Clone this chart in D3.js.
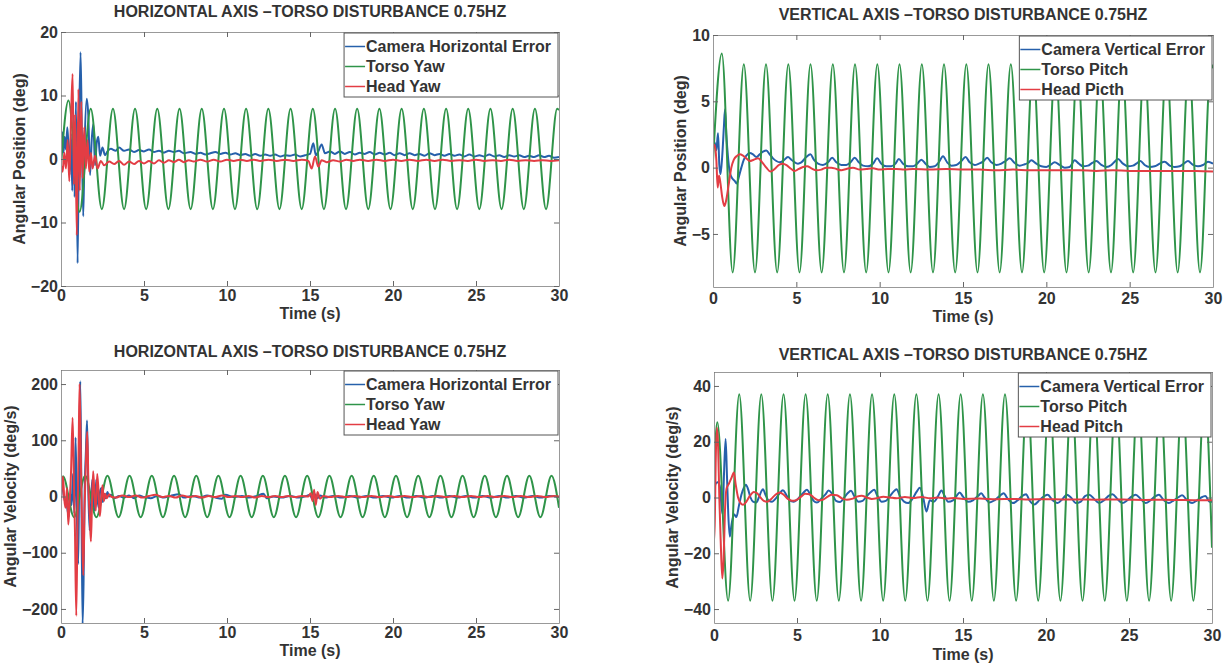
<!DOCTYPE html>
<html>
<head>
<meta charset="utf-8">
<script src="https://cdn.jsdelivr.net/npm/d3@7"></script>
<style>
  body { margin: 0; background: #fff; }
  text { font-family: "Liberation Sans", Arial, Helvetica, sans-serif; font-weight: bold; fill: #333; }
</style>
</head>
<body>
<svg id="chart" width="1232" height="663"></svg>
<script>
// ---- data: [time (s), value] ----
const timeTicks = [0, 5, 10, 15, 20, 25, 30];
const posHorTicks = [-20, -10, 0, 10, 20];
const posVerTicks = [-5, 0, 5, 10];
const velHorTicks = [-200, -100, 0, 100, 200];
const velVerTicks = [-40, -20, 0, 20, 40];

const torsoYawPos = [[0,-1],[0.45,9.2],[1.12,-8.3],[1.79,7.9],[2.46,-7.9],[3.13,7.9],[3.80,-7.9],[4.46,7.9],[5.13,-7.9],[5.80,7.9],[6.47,-7.9],[7.14,7.9],[7.81,-7.9],[8.48,7.9],[9.15,-7.9],[9.82,7.9],[10.48,-7.9],[11.15,7.9],[11.82,-7.9],[12.49,7.9],[13.16,-7.9],[13.83,7.9],[14.50,-7.9],[15.17,7.9],[15.84,-7.9],[16.51,7.9],[17.17,-7.9],[17.84,7.9],[18.51,-7.9],[19.18,7.9],[19.85,-7.9],[20.52,7.9],[21.19,-7.9],[21.86,7.9],[22.53,-7.9],[23.20,7.9],[23.86,-7.9],[24.53,7.9],[25.20,-7.9],[25.87,7.9],[26.54,-7.9],[27.21,7.9],[27.88,-7.9],[28.55,7.9],[29.22,-7.9],[29.89,7.9],[30,7.7]];

const camHorPos = [[0,2.5],[0.08,4.2],[0.15,1.0],[0.22,3.5],[0.3,1.5],[0.38,5.0],[0.45,2.0],[0.52,-2.5],[0.6,4.0],[0.68,-5.0],[0.75,7.0],[0.82,-6.0],[0.9,9.0],[1.0,-16.4],[1.08,4.0],[1.18,16.8],[1.26,3.0],[1.34,-9.0],[1.42,2.0],[1.55,9.5],[1.65,6.5],[1.75,-2.5],[1.85,3.0],[1.95,5.5],[2.05,-1.0],[2.15,2.5],[2.25,3.5],[2.35,0.5],[2.5,1.8],[2.65,0.6],[2.8,1.2],[3.0,1.6],[3.3,1.3],[3.5,1.8],[3.8,1.3],[4.1,1.5],[4.4,1.1],[4.7,1.4],[5.0,1.2],[5.3,1.5],[5.6,1.1],[5.9,1.3],[6.2,1.0],[6.5,1.3],[6.8,1.1],[7.1,1.3],[7.4,0.9],[7.8,1.1],[8.1,0.8],[8.4,1.0],[8.7,0.7],[9.0,0.9],[9.3,1.1],[9.6,0.8],[9.9,1.0],[10.2,0.7],[10.5,0.9],[10.8,0.6],[11.1,0.8],[11.4,0.5],[11.7,0.8],[12.0,0.5],[12.3,0.7],[12.6,0.5],[12.9,0.7],[13.2,0.4],[13.5,0.6],[13.8,0.5],[14.1,0.7],[14.4,0.4],[14.7,0.6],[15.0,0.8],[15.2,2.5],[15.35,0.6],[15.5,1.2],[15.7,2.3],[15.9,0.9],[16.2,1.2],[16.5,0.8],[16.8,1.2],[17.1,0.8],[17.4,1.1],[17.7,0.7],[18.0,1.0],[18.3,0.8],[18.6,1.1],[18.9,0.7],[19.2,1.0],[19.5,0.7],[19.8,1.0],[20.1,0.6],[20.4,0.9],[20.7,0.6],[21.0,0.9],[21.3,0.6],[21.6,0.8],[21.9,0.5],[22.2,0.9],[22.5,0.6],[22.8,0.8],[23.1,0.5],[23.4,0.8],[23.7,0.5],[24.0,0.7],[24.3,0.4],[24.6,0.7],[24.9,0.4],[25.2,0.6],[25.5,0.4],[25.8,0.7],[26.1,0.4],[26.4,0.6],[26.7,0.3],[27.0,0.6],[27.3,0.4],[27.6,0.6],[27.9,0.3],[28.2,0.5],[28.5,0.3],[28.8,0.6],[29.1,0.3],[29.4,0.5],[29.7,0.2],[30,0.3]];

const headYawPos = [[0,-1.0],[0.1,-2.0],[0.2,1.0],[0.3,-1.5],[0.4,3.0],[0.5,-3.5],[0.6,6.0],[0.7,13.4],[0.78,-4.0],[0.86,7.0],[0.95,-12.0],[1.05,11.0],[1.13,-5.0],[1.22,9.0],[1.3,-3.0],[1.4,5.0],[1.5,-1.5],[1.6,3.0],[1.7,-2.0],[1.8,1.0],[1.9,-1.5],[2.05,0.5],[2.2,-1.5],[2.4,-0.3],[2.6,-1.0],[2.9,-0.4],[3.2,-0.8],[3.5,-0.3],[3.8,-0.9],[4.1,-0.4],[4.4,-0.8],[4.7,-0.3],[5.0,-0.7],[5.3,-0.3],[5.6,-0.7],[5.9,-0.2],[6.2,-0.6],[6.5,-0.2],[6.8,-0.5],[7.1,-0.1],[7.4,-0.5],[7.7,-0.2],[8.0,-0.4],[8.4,-0.1],[8.8,-0.4],[9.2,-0.1],[9.6,-0.4],[10.0,-0.1],[10.4,-0.3],[10.8,-0.1],[11.2,-0.3],[11.6,-0.1],[12.0,-0.3],[12.5,-0.1],[13.0,-0.3],[13.5,-0.1],[14.0,-0.3],[14.5,-0.1],[14.9,-0.3],[15.1,-1.5],[15.3,0.4],[15.5,-1.2],[15.7,-0.2],[16.0,-0.5],[16.4,-0.2],[16.8,-0.4],[17.2,-0.1],[17.6,-0.3],[18.0,-0.1],[18.5,-0.3],[19.0,-0.1],[19.5,-0.3],[20.0,-0.1],[20.5,-0.3],[21,-0.1],[21.5,-0.3],[22,-0.1],[22.5,-0.3],[23,-0.1],[23.5,-0.3],[24,-0.2],[24.5,-0.3],[25,-0.1],[25.5,-0.3],[26,-0.2],[26.5,-0.3],[27,-0.1],[27.5,-0.3],[28,-0.2],[28.5,-0.3],[29,-0.2],[29.5,-0.3],[30,-0.2]];

const torsoPitchPos = [[0,0.5],[0.53,8.6],[1.18,-7.9],[1.85,7.8],[2.52,-7.9],[3.18,7.8],[3.85,-7.9],[4.52,7.8],[5.19,-7.9],[5.85,7.8],[6.52,-7.9],[7.19,7.8],[7.86,-7.9],[8.52,7.8],[9.19,-7.9],[9.86,7.8],[10.53,-7.9],[11.19,7.8],[11.86,-7.9],[12.53,7.8],[13.20,-7.9],[13.86,7.8],[14.53,-7.9],[15.20,7.8],[15.87,-7.9],[16.53,7.8],[17.20,-7.9],[17.87,7.8],[18.54,-7.9],[19.20,7.8],[19.87,-7.9],[20.54,7.8],[21.21,-7.9],[21.87,7.8],[22.54,-7.9],[23.21,7.8],[23.88,-7.9],[24.54,7.8],[25.21,-7.9],[25.88,7.8],[26.55,-7.9],[27.21,7.8],[27.88,-7.9],[28.55,7.8],[29.22,-7.9],[29.88,7.8],[30,7.5]];

const camVerPos = [[0,1.5],[0.1,1.9],[0.2,1.3],[0.3,2.6],[0.38,0.2],[0.45,-0.5],[0.55,0.8],[0.65,3.0],[0.72,4.4],[0.8,2.5],[0.9,0.8],[1.0,-0.3],[1.15,-0.8],[1.3,-1.0],[1.42,-1.2],[1.55,-0.7],[1.7,0.0],[1.85,0.6],[2.0,0.9],[2.2,1.1],[2.4,1.0],[2.6,0.8],[2.8,1.0],[3.0,1.2],[3.2,1.3],[3.4,1.0],[3.6,0.7],[3.8,0.5],[4.0,0.4],[4.2,0.5],[4.5,0.8],[4.7,0.6],[4.9,0.4],[5.1,0.3],[5.3,0.4],[5.6,0.8],[5.85,1.0],[6.05,0.6],[6.3,0.3],[6.6,0.2],[6.9,0.4],[7.15,0.75],[7.4,0.4],[7.7,0.2],[8.0,0.2],[8.25,0.4],[8.5,0.75],[8.75,0.4],[9.0,0.15],[9.3,0.1],[9.6,0.3],[9.85,0.7],[10.1,0.3],[10.4,0.1],[10.7,0.1],[10.95,0.3],[11.15,0.65],[11.4,0.3],[11.7,0.1],[12.0,0.1],[12.25,0.3],[12.5,0.6],[12.75,0.3],[13.0,0.05],[13.3,0.1],[13.55,0.4],[13.8,0.85],[14.05,0.4],[14.3,0.15],[14.6,0.2],[14.9,0.5],[15.15,0.8],[15.4,0.4],[15.7,0.2],[15.95,0.3],[16.2,0.45],[16.45,0.75],[16.7,0.4],[17.0,0.2],[17.3,0.3],[17.55,0.5],[17.8,0.7],[18.1,0.35],[18.4,0.15],[18.7,0.25],[18.9,0.35],[19.1,0.55],[19.4,0.3],[19.7,0.1],[20.0,0.05],[20.25,0.2],[20.5,0.4],[20.8,0.2],[21.1,0.0],[21.4,0.05],[21.7,0.55],[21.95,0.3],[22.2,0.1],[22.5,0.15],[22.75,0.35],[23.0,0.5],[23.3,0.2],[23.6,0.05],[23.9,0.2],[24.1,0.45],[24.3,0.65],[24.6,0.3],[24.9,0.1],[25.2,0.15],[25.4,0.3],[25.65,0.5],[25.9,0.2],[26.2,0.05],[26.5,0.1],[26.8,0.3],[27.1,0.45],[27.4,0.15],[27.7,0.05],[28.0,0.1],[28.25,0.3],[28.5,0.5],[28.8,0.2],[29.1,0.1],[29.4,0.2],[29.7,0.45],[30,0.3]];

const headPitchPos = [[0,1.6],[0.1,1.7],[0.2,0.6],[0.28,-1.5],[0.36,-0.6],[0.45,-1.2],[0.55,-2.2],[0.68,-2.9],[0.8,-2.4],[0.95,-1.2],[1.1,0.0],[1.25,0.6],[1.45,0.9],[1.6,1.0],[1.8,0.9],[2.0,0.7],[2.2,0.5],[2.45,0.6],[2.7,0.7],[2.95,0.4],[3.2,0.0],[3.45,-0.3],[3.7,-0.1],[3.95,0.2],[4.2,0.3],[4.45,0.15],[4.7,-0.1],[4.9,-0.25],[5.15,-0.1],[5.4,0.05],[5.65,0.1],[5.9,-0.05],[6.2,-0.2],[6.5,-0.15],[6.8,0.0],[7.1,0.0],[7.4,-0.1],[7.7,-0.2],[8.0,-0.1],[8.4,0.0],[8.8,-0.15],[9.2,-0.1],[9.6,-0.05],[10.0,-0.15],[10.5,-0.1],[11,-0.1],[11.5,-0.15],[12,-0.1],[13,-0.15],[14,-0.1],[15,-0.15],[16,-0.15],[17,-0.2],[18,-0.15],[19,-0.2],[20,-0.2],[21,-0.2],[22,-0.2],[23,-0.25],[24,-0.2],[25,-0.25],[26,-0.25],[27,-0.25],[28,-0.25],[29,-0.25],[30,-0.3]];

const torsoYawVel = [[0,10],[0.12,36],[0.79,-37],[1.46,37],[2.13,-37],[2.80,37],[3.47,-37],[4.13,37],[4.80,-37],[5.47,37],[6.14,-37],[6.81,37],[7.48,-37],[8.15,37],[8.81,-37],[9.48,37],[10.15,-37],[10.82,37],[11.49,-37],[12.16,37],[12.82,-37],[13.49,37],[14.16,-37],[14.83,37],[15.50,-37],[16.17,37],[16.84,-37],[17.51,37],[18.17,-37],[18.84,37],[19.51,-37],[20.18,37],[20.85,-37],[21.52,37],[22.19,-37],[22.86,37],[23.52,-37],[24.19,37],[24.86,-37],[25.53,37],[26.20,-37],[26.87,37],[27.54,-37],[28.21,37],[28.88,-37],[29.55,37],[30,-20]];

const camHorVel = [[0,10],[0.08,18],[0.16,2],[0.24,-8],[0.32,-10],[0.4,-25],[0.48,-35],[0.56,5],[0.64,-15],[0.72,40],[0.8,-30],[0.88,105],[0.96,-40],[1.04,-120],[1.1,60],[1.16,205],[1.22,40],[1.3,-228],[1.36,-150],[1.42,0],[1.5,80],[1.57,135],[1.64,20],[1.72,-60],[1.8,-20],[1.88,30],[1.96,-10],[2.04,-25],[2.12,30],[2.2,-5],[2.28,-20],[2.36,10],[2.44,15],[2.52,-10],[2.6,5],[2.7,-3],[2.8,8],[2.9,0],[3.0,3],[3.2,-3],[3.5,1],[3.8,-2],[4.1,2],[4.4,-3],[4.7,2],[5.0,-1],[5.4,-3],[5.8,1],[6.2,-2],[6.6,1],[7.1,4],[7.4,-2],[7.9,1],[8.4,-2],[8.8,2],[9.2,-1],[9.7,-4],[9.9,3],[10.4,-1],[10.9,1],[11.3,-2],[11.8,1],[12.2,5],[12.4,-3],[12.8,0],[13.3,-2],[13.8,1],[14.3,-2],[14.8,1],[15.0,3],[15.15,-5],[15.3,4],[15.45,-3],[15.6,2],[15.9,-2],[16.4,1],[16.9,-2],[17.4,1],[17.9,-2],[18.4,1],[18.9,-2],[19.4,1],[19.9,-2],[20.4,1],[20.9,-2],[21.4,1],[21.9,-2],[22.4,1],[22.9,-2],[23.4,1],[23.9,-2],[24.4,1],[24.9,-2],[25.4,1],[25.9,-2],[26.4,1],[26.9,-2],[27.4,1],[27.9,-2],[28.4,1],[28.9,-2],[29.4,1],[30,-1]];

const headYawVel = [[0,-10],[0.06,20],[0.12,35],[0.2,-5],[0.28,-20],[0.36,15],[0.44,-50],[0.52,-10],[0.6,40],[0.7,140],[0.78,20],[0.84,-60],[0.92,-212],[1.0,-30],[1.06,80],[1.12,200],[1.2,60],[1.27,-50],[1.34,-140],[1.42,-20],[1.5,60],[1.58,115],[1.66,10],[1.74,-40],[1.8,-80],[1.87,-10],[1.94,45],[2.02,0],[2.1,-25],[2.18,40],[2.26,10],[2.34,-35],[2.42,-5],[2.5,20],[2.58,-8],[2.66,5],[2.76,-3],[2.9,4],[3.0,0],[3.3,-2],[3.7,2],[4.1,-1],[4.5,2],[4.9,-2],[5.3,1],[5.7,3],[6.1,-1],[6.5,1],[6.9,-2],[7.3,2],[7.7,-1],[8.1,1],[8.5,-2],[8.9,1],[9.3,-1],[9.7,2],[10.1,-1],[10.5,1],[10.9,-1],[11.3,1],[11.7,-2],[12.1,1],[12.5,-1],[12.9,1],[13.3,-1],[13.7,1],[14.1,-1],[14.5,1],[14.9,0],[15.05,6],[15.15,-8],[15.25,12],[15.35,-15],[15.45,8],[15.6,-4],[15.8,1],[16.2,-1],[16.7,1],[17.2,-1],[17.7,1],[18.2,-1],[18.7,1],[19.2,-1],[19.7,1],[20.2,-1],[20.7,1],[21.2,-1],[21.7,1],[22.2,-1],[22.7,1],[23.2,-1],[23.7,1],[24.2,-1],[24.7,1],[25.2,-1],[25.7,1],[26.2,-1],[26.7,1],[27.2,-1],[27.7,1],[28.2,-1],[28.7,1],[29.2,-1],[29.7,1],[30,0]];

const torsoPitchVel = [[0,8],[0.2,27],[0.85,-37],[1.52,37],[2.18,-37],[2.85,37],[3.52,-37],[4.19,37],[4.85,-37],[5.52,37],[6.19,-37],[6.85,37],[7.52,-37],[8.19,37],[8.86,-37],[9.52,37],[10.19,-37],[10.86,37],[11.52,-37],[12.19,37],[12.86,-37],[13.53,37],[14.19,-37],[14.86,37],[15.53,-37],[16.20,37],[16.86,-37],[17.53,37],[18.20,-37],[18.87,37],[19.53,-37],[20.20,37],[20.87,-37],[21.54,37],[22.20,-37],[22.87,37],[23.54,-37],[24.21,37],[24.87,-37],[25.54,37],[26.21,-37],[26.88,37],[27.54,-37],[28.21,37],[28.88,-37],[29.55,37],[30,-18]];

const camVerVel = [[0,2],[0.1,5],[0.22,5.5],[0.35,4],[0.45,-3],[0.52,-6],[0.6,8],[0.7,21],[0.78,8],[0.86,-6],[0.95,-14],[1.05,-10],[1.2,-6],[1.35,-7],[1.5,-3],[1.65,1],[1.8,3.5],[1.92,4.6],[2.05,3],[2.2,0],[2.35,-1.5],[2.55,-1.8],[2.7,0],[2.85,2.2],[2.95,3],[3.1,1],[3.3,-1.2],[3.5,-1.5],[3.7,-0.5],[3.95,1.5],[4.15,2.6],[4.35,1],[4.55,-1],[4.8,-1.5],[5.0,-0.8],[5.2,0.5],[5.4,1.8],[5.6,2.8],[5.8,1],[6.0,-1.2],[6.2,-1.8],[6.45,-0.5],[6.7,1],[6.9,2.5],[7.1,1.5],[7.35,-1.2],[7.6,-1.6],[7.85,0],[8.05,1.5],[8.25,2.4],[8.45,0.5],[8.7,-1.5],[8.95,-1.2],[9.2,0.5],[9.45,2],[9.65,2.8],[9.85,0.5],[10.1,-1.5],[10.35,-1.2],[10.6,0.5],[10.8,2],[11.0,3],[11.2,0.5],[11.45,-1.5],[11.7,-2],[11.95,-0.5],[12.2,2],[12.4,3.5],[12.6,0],[12.8,-5],[13.0,-1],[13.25,-1.5],[13.5,0.5],[13.7,2.5],[13.9,0.5],[14.1,-1.5],[14.4,-1],[14.6,0.5],[14.8,1.8],[15.0,0.3],[15.3,-1.5],[15.6,-1],[15.9,0.5],[16.1,1.5],[16.3,0],[16.6,-1.8],[16.9,-1],[17.2,0.5],[17.45,1.5],[17.7,-0.5],[18.0,-2],[18.3,-1],[18.55,0.5],[18.8,1.2],[19.0,-1],[19.3,-2.5],[19.6,-1],[19.9,0.5],[20.1,1],[20.4,-1],[20.7,-2],[21.0,-0.5],[21.25,1],[21.5,0],[21.8,-2],[22.1,-1.5],[22.35,0.5],[22.6,1],[22.9,-0.5],[23.2,-2],[23.5,-1],[23.75,0.5],[24.0,1.2],[24.3,-0.5],[24.6,-2],[24.9,-1],[25.15,0.3],[25.4,1],[25.7,-0.5],[26.0,-2],[26.3,-1],[26.55,0.3],[26.8,1],[27.1,-1],[27.4,-2],[27.7,-1],[27.95,0],[28.2,0.8],[28.5,-1],[28.8,-2],[29.1,-1],[29.35,0],[29.6,0.5],[29.85,-1.5],[30,-1.5]];

const headPitchVel = [[0,-15],[0.05,-8],[0.1,12],[0.18,25],[0.25,18],[0.32,0],[0.4,-15],[0.5,-29],[0.58,-22],[0.66,-5],[0.75,3],[0.9,5],[1.05,7],[1.2,9],[1.3,5],[1.45,0],[1.6,-2],[1.75,-2.6],[1.95,-1.5],[2.15,0.5],[2.4,2],[2.6,1.5],[2.8,0],[3.0,-1.2],[3.2,-1.5],[3.45,-0.5],[3.7,1],[3.95,1.8],[4.2,1],[4.45,-0.5],[4.7,-1.2],[4.95,-1],[5.25,0.3],[5.5,1.3],[5.75,1.2],[6.0,0],[6.3,-1],[6.55,-0.8],[6.85,0.3],[7.1,1],[7.4,0.8],[7.7,-0.3],[8.0,-0.8],[8.3,-0.5],[8.6,0.3],[8.9,0.6],[9.2,0],[9.5,-0.5],[9.8,-0.3],[10.2,0.3],[10.6,0],[11.0,-0.3],[11.5,0.2],[12,-0.2],[12.5,0.2],[13,-0.3],[13.5,0],[14,-0.4],[14.5,-0.2],[15,-0.5],[16,-0.4],[17,-0.6],[18,-0.5],[19,-0.7],[20,-0.6],[21,-0.7],[22,-0.7],[23,-0.8],[24,-0.7],[25,-0.8],[26,-0.9],[27,-0.8],[28,-0.9],[29,-1.0],[30,-1.0]];

const colors = { camera: "#2660ab", torso: "#2f9449", head: "#e33d44" };

// ---- panels ----
const panels = [
  { id: "tl", box: [61, 559, 32, 286], yDomain: [-20, 20], yTicks: posHorTicks,
    title: "HORIZONTAL AXIS \u2013TORSO DISTURBANCE 0.75HZ", titleY: 17,
    yLabel: "Angular Position (deg)", yLabelX: 25, xTickPad: 15, xLabelY: 319,
    names: ["Camera Horizontal Error", "Torso Yaw", "Head Yaw"],
    series: [camHorPos, torsoYawPos, headYawPos] },
  { id: "tr", box: [713, 1213, 35, 287], yDomain: [-9, 10], yTicks: posVerTicks,
    title: "VERTICAL AXIS \u2013TORSO DISTURBANCE 0.75HZ", titleY: 20,
    yLabel: "Angular Position (deg)", yLabelX: 686, xTickPad: 17, xLabelY: 322,
    names: ["Camera Vertical Error", "Torso Pitch", "Head Picth"],
    series: [camVerPos, torsoPitchPos, headPitchPos] },
  { id: "bl", box: [61, 559, 370, 623], yDomain: [-225, 225], yTicks: velHorTicks,
    title: "HORIZONTAL AXIS \u2013TORSO DISTURBANCE 0.75HZ", titleY: 357,
    yLabel: "Angular Velocity (deg/s)", yLabelX: 16, xTickPad: 15, xLabelY: 656,
    names: ["Camera Horizontal Error", "Torso Yaw", "Head Yaw"],
    series: [camHorVel, torsoYawVel, headYawVel] },
  { id: "br", box: [714, 1212, 372, 623], yDomain: [-45, 45], yTicks: velVerTicks,
    title: "VERTICAL AXIS \u2013TORSO DISTURBANCE 0.75HZ", titleY: 360,
    yLabel: "Angular Velocity (deg/s)", yLabelX: 678, xTickPad: 18, xLabelY: 660,
    names: ["Camera Vertical Error", "Torso Pitch", "Head Pitch"],
    series: [camVerVel, torsoPitchVel, headPitchVel] }
];

const svg = d3.select("#chart");
const seriesColors = [colors.camera, colors.torso, colors.head];

function styleAxis(g) {
  g.select(".domain").attr("stroke", "#999").attr("stroke-width", 1);
  g.selectAll(".tick line").attr("stroke", "#666");
  g.selectAll("text").attr("font-size", 16).attr("font-family", null).attr("fill", "#333");
}

function drawPanel(p) {
  const [x0, x1, y0, y1] = p.box;
  const x = d3.scaleLinear().domain([0, 30]).range([x0, x1]);
  const y = d3.scaleLinear().domain(p.yDomain).range([y1, y0]);
  const g = svg.append("g");

  g.append("clipPath").attr("id", "clip-" + p.id)
    .append("rect").attr("x", x0).attr("y", y0).attr("width", x1 - x0).attr("height", y1 - y0);

  const line = d3.line().x(d => x(d[0])).y(d => y(d[1])).curve(d3.curveMonotoneX);

  p.series.forEach((s, i) => {
    g.append("path").datum(s)
      .attr("clip-path", `url(#clip-${p.id})`)
      .attr("fill", "none")
      .attr("stroke", seriesColors[i])
      .attr("stroke-width", 2)
      .attr("stroke-linejoin", "round")
      .attr("d", line);
  });

  // box with inward ticks
  g.append("g").attr("transform", `translate(0,${y1})`)
    .call(d3.axisBottom(x).tickValues(timeTicks).tickSizeInner(-5).tickSizeOuter(0)
      .tickPadding(p.xTickPad - 11.5))
    .call(styleAxis);
  g.append("g").attr("transform", `translate(0,${y0})`)
    .call(d3.axisTop(x).tickValues(timeTicks).tickSizeInner(-5).tickSizeOuter(0).tickFormat(""))
    .call(styleAxis);
  g.append("g").attr("transform", `translate(${x0},0)`)
    .call(d3.axisLeft(y).tickValues(p.yTicks).tickSizeInner(-5).tickSizeOuter(0)
      .tickPadding(3).tickFormat(d => d < 0 ? "\u2212" + Math.abs(d) : d))
    .call(styleAxis);
  g.append("g").attr("transform", `translate(${x1},0)`)
    .call(d3.axisRight(y).tickValues(p.yTicks).tickSizeInner(-5).tickSizeOuter(0).tickFormat(""))
    .call(styleAxis);

  // titles
  g.append("text").attr("x", (x0 + x1) / 2).attr("y", p.titleY)
    .attr("text-anchor", "middle").attr("font-size", 16).text(p.title);
  g.append("text").attr("x", (x0 + x1) / 2).attr("y", p.xLabelY)
    .attr("text-anchor", "middle").attr("font-size", 16).text("Time (s)");
  g.append("text")
    .attr("transform", `translate(${p.yLabelX},${(y0 + y1) / 2}) rotate(-90)`)
    .attr("text-anchor", "middle").attr("font-size", 16).text(p.yLabel);

  // legend, top-right corner
  const leg = g.append("g");
  const box = leg.append("rect").attr("fill", "#fff").attr("stroke", "#555").attr("stroke-width", 1);
  let maxW = 0;
  const items = p.names.map((name, i) => {
    const t = leg.append("text").attr("font-size", 16).attr("y", 19 + i * 20).text(name);
    maxW = Math.max(maxW, t.node().getComputedTextLength());
    return t;
  });
  const w = 22 + maxW + 7;
  leg.attr("transform", `translate(${x1 - 1 - w},${y0 + 1})`);
  box.attr("width", w).attr("height", 64);
  items.forEach((t, i) => {
    t.attr("x", 22);
    leg.append("line").attr("x1", 1).attr("x2", 21)
      .attr("y1", 13.5 + i * 20).attr("y2", 13.5 + i * 20)
      .attr("stroke", seriesColors[i]).attr("stroke-width", 1.5);
  });
}

panels.forEach(drawPanel);
</script>
</body>
</html>
